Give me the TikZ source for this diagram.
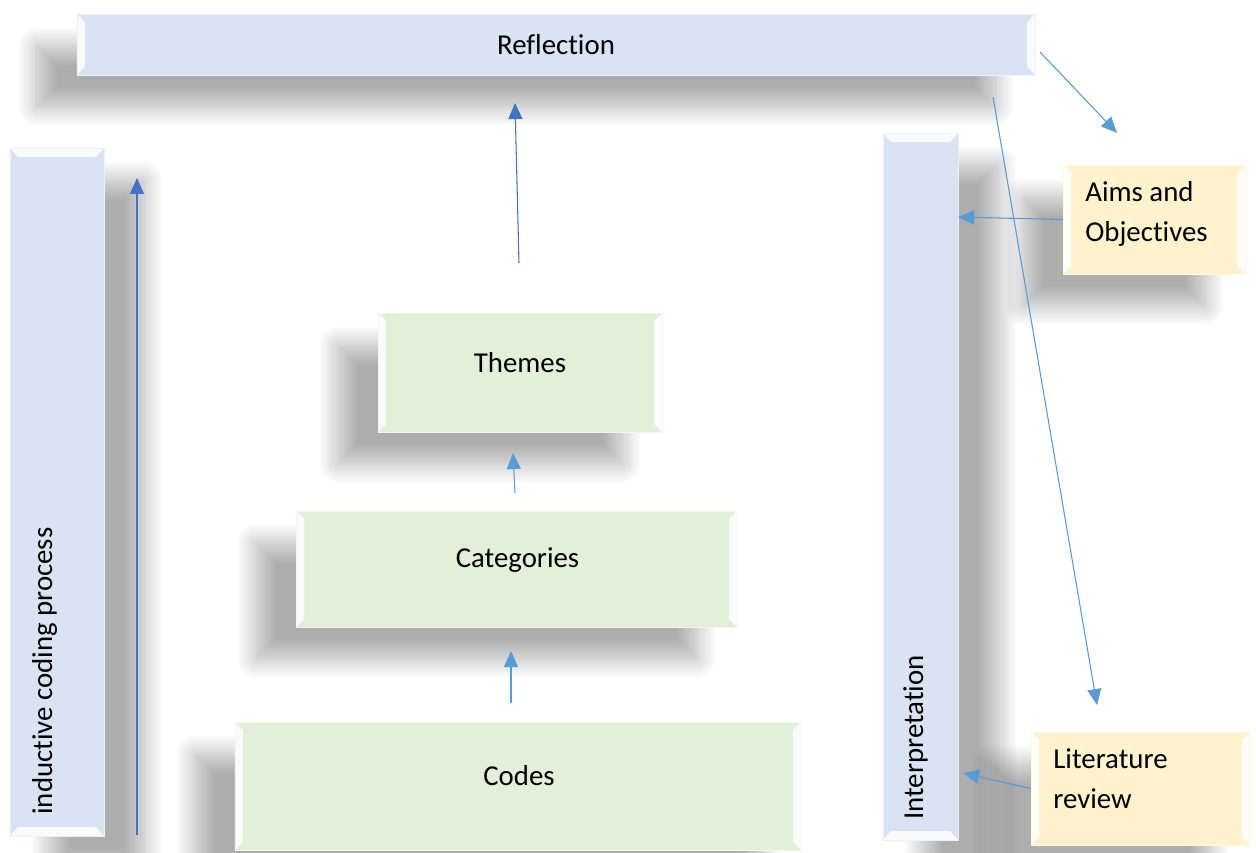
\documentclass[tikz,border=0pt]{standalone}
\usepackage{fontspec}
\setmainfont{Carlito}[Ligatures={NoCommon,NoContextual}]
\usepackage{tikz}
\usetikzlibrary{arrows.meta,shadows.blur}
\definecolor{boxclr}{RGB}{218,227,243}
\definecolor{stepclr}{RGB}{226,240,217}
\definecolor{srcclr}{RGB}{255,242,204}
\definecolor{arrclr}{RGB}{91,155,213}
\definecolor{darkclr}{RGB}{68,114,196}
\tikzset{
  bevh/.style={path picture={
    \fill[white,opacity=.85] (path picture bounding box.north west)
      -- ([shift={(1.6mm,-1.6mm)}]path picture bounding box.north west)
      -- ([shift={(1.6mm,1.6mm)}]path picture bounding box.south west)
      -- (path picture bounding box.south west) -- cycle;
    \fill[white,opacity=.85] (path picture bounding box.north east)
      -- ([shift={(-1.6mm,-1.6mm)}]path picture bounding box.north east)
      -- ([shift={(-1.6mm,1.6mm)}]path picture bounding box.south east)
      -- (path picture bounding box.south east) -- cycle;}},
  bevv/.style={path picture={
    \fill[white,opacity=.85] (path picture bounding box.north west)
      -- ([shift={(1.6mm,-1.8mm)}]path picture bounding box.north west)
      -- ([shift={(-1.6mm,-1.8mm)}]path picture bounding box.north east)
      -- (path picture bounding box.north east) -- cycle;
    \fill[white,opacity=.85] (path picture bounding box.south west)
      -- ([shift={(1.6mm,1.8mm)}]path picture bounding box.south west)
      -- ([shift={(-1.6mm,1.8mm)}]path picture bounding box.south east)
      -- (path picture bounding box.south east) -- cycle;}},
  card/.style={rectangle,inner sep=0pt,line width=0.5pt},
  hshadow/.style={blur shadow={shadow xshift=-8mm,shadow yshift=-6.4mm,
                  shadow blur radius=4mm,shadow opacity=32,shadow blur steps=16}},
  vshadow/.style={blur shadow={shadow xshift=8mm,shadow yshift=-6.4mm,
                  shadow blur radius=4mm,shadow opacity=32,shadow blur steps=16}},
  hbox/.style={card,hshadow,bevh,fill=boxclr,draw=boxclr!50!white},
  vbox/.style={card,vshadow,bevv,fill=boxclr,draw=boxclr!50!white},
  stepbox/.style={card,hshadow,bevh,fill=stepclr,draw=stepclr!50!white},
  srcbox/.style={card,hshadow,bevh,fill=srcclr,draw=srcclr!50!white},
  txt/.style={inner sep=0pt},
  edge/.style={-{Triangle[length=3.2mm,width=2.8mm]},line width=0.6pt,draw=arrclr,fill=arrclr},
  darkedge/.style={edge,draw=darkclr,fill=darkclr},
}

\begin{document}
\begin{tikzpicture}[x=0.2mm,y=-0.2mm,font=\fontsize{16.4}{22.7}\selectfont]
\useasboundingbox (0,0) rectangle (1256,853);
\node[hbox,minimum width=19.16cm,minimum height=1.22cm] (refl) at (556,44.5) {Reflection};
\node[vbox,minimum width=1.88cm,minimum height=13.76cm] (induct) at (57,492) {};
\node[stepbox,minimum width=5.68cm,minimum height=2.38cm] (themes) at (520,372.5) {};
\node[stepbox,minimum width=8.82cm,minimum height=2.32cm] (cat) at (516.5,569) {};
\node[stepbox,minimum width=11.32cm,minimum height=2.56cm] (codes) at (518,786) {};
\node[vbox,minimum width=1.5cm,minimum height=14.14cm] (interp) at (920.5,486.5) {};
\node[srcbox,minimum width=3.64cm,minimum height=2.18cm] (aims) at (1154,219.5) {};
\node[srcbox,minimum width=4.38cm,minimum height=2.26cm] (lit) at (1140.5,788.5) {};
% texts
\node[txt,anchor=base] (themes-t) at (520,372) {Themes};
\node[txt,anchor=base] (cat-t) at (517.5,567) {Categories};
\node[txt,anchor=base] (codes-t) at (519,785.5) {Codes};
\node[txt,anchor=base west,rotate=90] (induct-t) at (52,815) {inductive coding process};
\node[txt,anchor=base west,rotate=90] (interp-t) at (923,820) {Interpretation};
\node[txt,anchor=base west,align=left] (aims-t) at (1085,241.5) {Aims and\\Objectives};
\node[txt,anchor=base west,align=left] (lit-t) at (1053,808) {Literature\\review};
% arrow ends
\coordinate (a1) at (137,835);  \coordinate (a2) at (137,178);
\coordinate (b1) at (519,263);  \coordinate (b2) at (515,103);
\coordinate (c1) at (515,493);  \coordinate (c2) at (513,453);
\coordinate (d1) at (511,703);  \coordinate (d2) at (511,651);
\coordinate (e1) at (1040,52);  \coordinate (e2) at (1117,133);
\coordinate (f1) at (993,97);   \coordinate (f2) at (1097,705);
\coordinate (g1) at (958,217);  \coordinate (h1) at (963,773);
\draw[darkedge] (a1) -- (a2); \draw[darkedge] (b1) -- (b2);
\draw[edge] (c1) -- (c2); \draw[edge] (d1) -- (d2);
\draw[edge] (e1) -- (e2); \draw[edge] (f1) -- (f2);
\draw[edge] (aims.west) -- (g1); \draw[edge] (lit.west) -- (h1);
\end{tikzpicture}
\end{document}
